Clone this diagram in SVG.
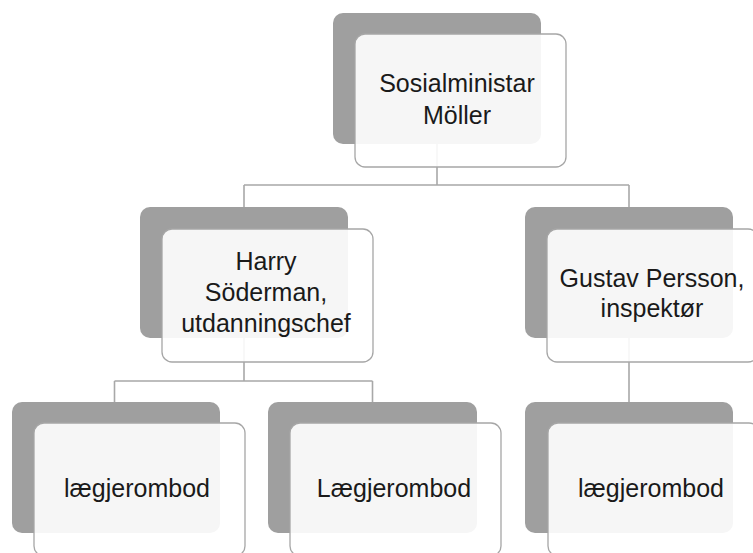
<svg xmlns="http://www.w3.org/2000/svg" width="753" height="553" viewBox="0 0 753 553">
<style>
.back{fill:#9f9f9f;}
.front{fill:#ffffff;fill-opacity:0.9;stroke:#a6a6a6;stroke-width:1.3;}
.conn{fill:none;stroke:#a8a8a8;stroke-width:1.6;}
.lbl{font-family:"Liberation Sans",Arial,sans-serif;font-size:25px;fill:#1a1a1a;text-anchor:middle;}
</style>
<rect width="753" height="553" fill="#ffffff"/>
<g id="backs">
<rect class="back" x="333" y="13" width="208" height="131" rx="10"/>
<rect class="back" x="140" y="207" width="208" height="131" rx="10"/>
<rect class="back" x="525" y="207" width="208" height="131" rx="10"/>
<rect class="back" x="12" y="402" width="208" height="131" rx="10"/>
<rect class="back" x="268" y="402" width="209" height="131" rx="10"/>
<rect class="back" x="525" y="402" width="208" height="131" rx="10"/>
</g>
<g id="connectors">
<path class="conn" d="M437 144 V185 M244 185 H629 M244 185 V207 M629 185 V207"/>
<path class="conn" d="M244 338 V381 M114.5 381 H372.5 M114.5 381 V402 M372.5 381 V402"/>
<path class="conn" d="M629 338 V402"/>
</g>
<g id="node-sosialminister">
<rect class="front" x="355" y="34" width="211" height="133" rx="10"/>
<text class="lbl" x="457" y="92">Sosialministar</text>
<text class="lbl" x="457" y="124">Möller</text>
</g>
<g id="node-soderman">
<rect class="front" x="162" y="229" width="211" height="133" rx="10"/>
<text class="lbl" x="266" y="270">Harry</text>
<text class="lbl" x="266" y="301">Söderman,</text>
<text class="lbl" x="266" y="332">utdanningschef</text>
</g>
<g id="node-persson">
<rect class="front" x="547" y="229" width="211" height="133" rx="10"/>
<text class="lbl" x="652" y="287">Gustav Persson,</text>
<text class="lbl" x="652" y="317">inspektør</text>
</g>
<g id="node-laeg1">
<rect class="front" x="34" y="423" width="211" height="133" rx="10"/>
<text class="lbl" x="137" y="497">lægjerombod</text>
</g>
<g id="node-laeg2">
<rect class="front" x="290" y="423" width="211" height="133" rx="10"/>
<text class="lbl" x="394" y="497">Lægjerombod</text>
</g>
<g id="node-laeg3">
<rect class="front" x="548" y="423" width="211" height="133" rx="10"/>
<text class="lbl" x="651" y="497">lægjerombod</text>
</g>
</svg>
